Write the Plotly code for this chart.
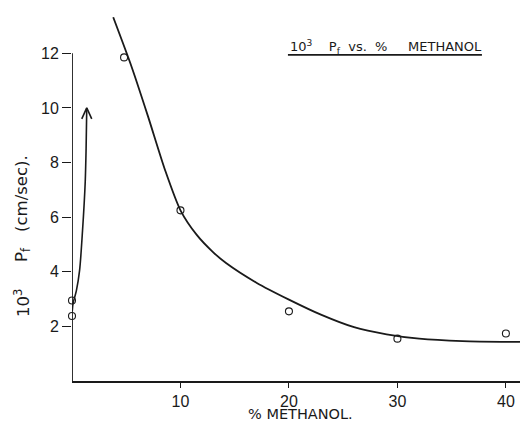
import plotly.graph_objects as go

# ---- data ----
pct_methanol = [0, 0, 4.8, 10, 20, 30, 40]
pf_values = [2.95, 2.38, 11.85, 6.25, 2.55, 1.55, 1.74]

curve_x = [3.8, 5.5, 7.0, 8.6, 10, 11.5, 13, 14.2, 17, 20, 23, 26, 29, 32, 36, 41.3]
curve_y = [13.32, 11.5, 9.7, 7.7, 6.25, 5.35, 4.72, 4.32, 3.6, 2.98, 2.42, 1.97, 1.71, 1.55, 1.46, 1.43]

rise_x = [0.02, 0.1, 0.4, 0.7, 0.97, 1.22, 1.3, 1.36]
rise_y = [2.55, 2.85, 3.3, 4.05, 5.5, 7.3, 8.5, 10.0]

x_ticks = [10, 20, 30, 40]
y_ticks = [2, 4, 6, 8, 10, 12]

TICK_FONT = "Liberation Sans"
TEXT_FONT = "DejaVu Sans"
INK = "#1a1a1a"

fig = go.Figure()

fig.add_trace(go.Scatter(x=curve_x, y=curve_y, mode="lines",
                         line=dict(color=INK, width=1.8, shape="spline", smoothing=0.7),
                         hoverinfo="skip"))
fig.add_trace(go.Scatter(x=rise_x, y=rise_y, mode="lines",
                         line=dict(color=INK, width=1.6, shape="spline", smoothing=0.8),
                         hoverinfo="skip"))
# open arrowhead at the end of the rising curve
tx, ty = rise_x[-1], rise_y[-1]
fig.add_trace(go.Scatter(x=[tx - 0.46, tx, tx + 0.46], y=[ty - 0.4, ty, ty - 0.4], mode="lines",
                         line=dict(color=INK, width=1.6), hoverinfo="skip"))
fig.add_trace(go.Scatter(x=pct_methanol, y=pf_values, mode="markers",
                         marker=dict(symbol="circle-open", size=7, color=INK, line=dict(width=1.1)),
                         cliponaxis=False))

fig.update_xaxes(range=[0, 41.3], tickmode="array", tickvals=x_ticks,
                 ticktext=[str(v) for v in x_ticks],
                 showline=True, linecolor=INK, linewidth=1.8,
                 ticks="outside", ticklen=5, tickwidth=1.3, tickcolor=INK,
                 showgrid=False, zeroline=False,
                 tickfont=dict(family=TICK_FONT, size=16, color=INK))
fig.update_yaxes(range=[0, 13.33], tickmode="array", tickvals=y_ticks,
                 ticktext=[str(v) for v in y_ticks],
                 showline=False, ticks="outside", ticklen=9, tickwidth=1.3, tickcolor=INK,
                 showgrid=False, zeroline=False,
                 tickfont=dict(family=TICK_FONT, size=16, color=INK))

# y axis spine only up to 12
fig.add_shape(type="line", xref="x", yref="y", x0=0, x1=0, y0=0, y1=max(y_ticks),
              line=dict(color=INK, width=1.8))

# in-plot title with underline
NB = "\u00a0"
fig.add_annotation(xref="paper", yref="paper", x=0.482, y=0.918, xanchor="left", yanchor="middle",
                   text="10<sup>3</sup>" + NB * 4 + "P<sub>f</sub>" + NB * 2 + "vs." + NB * 2 + "%" + NB * 5 + "METHANOL",
                   showarrow=False, font=dict(family=TEXT_FONT, size=13, color=INK))
fig.add_shape(type="line", xref="paper", yref="paper", x0=0.482, x1=0.915, y0=0.896, y1=0.896,
              line=dict(color=INK, width=1.6))

# axis titles
fig.add_annotation(xref="paper", yref="paper", x=0.511, y=-0.09, xanchor="center", yanchor="middle",
                   text="%" + NB + "METHANOL.", showarrow=False,
                   font=dict(family=TEXT_FONT, size=14.5, color=INK))
y_title_parts = [("10<sup>3</sup>", 0.214), ("P<sub>f</sub>", 0.346), ("(cm/sec).", 0.514)]
for txt, ypos in y_title_parts:
    fig.add_annotation(xref="paper", yref="paper", x=-0.1116, y=ypos, xanchor="center", yanchor="middle",
                       text=txt, textangle=-90, showarrow=False,
                       font=dict(family=TEXT_FONT, size=16.5, color=INK))

fig.update_layout(width=520, height=421, showlegend=False,
                  margin=dict(l=72, r=0, t=17, b=40),
                  paper_bgcolor="white", plot_bgcolor="white")

fig.write_html("out.html")
